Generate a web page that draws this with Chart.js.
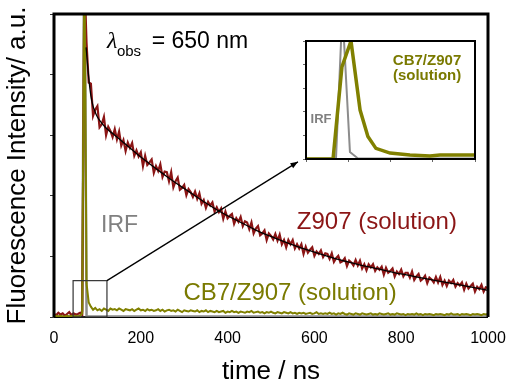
<!DOCTYPE html>
<html>
<head>
<meta charset="utf-8">
<script src="https://cdn.jsdelivr.net/npm/chart.js@4"></script>
<style>
  body { margin: 0; background: #fff; }
  #wrap { position: relative; width: 510px; height: 387px; }
  #inset { position: absolute; left: 300px; top: 36px; }
</style>
</head>
<body>
<div id="wrap">
  <canvas id="chart" width="510" height="387"></canvas>
  <canvas id="inset" width="180" height="130"></canvas>
</div>
<script>
// time axis of the decays, one value every 5 ns from 0 ns
const timeStep = 5;

// Z907 (solution), fluorescence counts (a.u.)
const z907 = [
  0.05, 0.03, 0.07, 0.04, 0.06, 0.02, 0.05, 0.08, 0.03, 0.06, 0.04, 0.05, 0.07, 0.04, 5.6,
  4.52, 3.87, 3.85, 3.32, 3.42, 3.48, 3.13, 3.18, 3.30, 3.00,
  3.14, 3.07, 2.97, 3.10, 2.93, 3.06, 2.83, 2.92, 2.74, 2.88,
  2.79, 2.87, 2.66, 2.75, 2.65, 2.72, 2.49, 2.66, 2.51, 2.55,
  2.60, 2.38, 2.49, 2.41, 2.52, 2.31, 2.40, 2.39, 2.24, 2.39,
  2.14, 2.24, 2.30, 2.10, 2.13, 2.18, 2.01, 2.11, 2.06, 1.98,
  2.07, 1.95, 2.04, 1.87, 1.93, 1.80, 1.90, 1.84, 1.89, 1.74,
  1.81, 1.73, 1.79, 1.62, 1.74, 1.63, 1.67, 1.70, 1.54, 1.63,
  1.57, 1.65, 1.50, 1.58, 1.56, 1.45, 1.56, 1.38, 1.46, 1.50,
  1.35, 1.38, 1.43, 1.27, 1.38, 1.34, 1.28, 1.37, 1.26, 1.36,
  1.20, 1.27, 1.15, 1.27, 1.20, 1.27, 1.13, 1.20, 1.13, 1.20,
  1.04, 1.16, 1.06, 1.11, 1.15, 1.01, 1.08, 1.04, 1.10, 0.99,
  1.05, 1.04, 0.96, 1.05, 0.91, 0.97, 1.01, 0.90, 0.92, 0.97,
  0.84, 0.93, 0.90, 0.85, 0.94, 0.85, 0.93, 0.80, 0.87, 0.77,
  0.87, 0.82, 0.87, 0.76, 0.82, 0.78, 0.83, 0.70, 0.81, 0.73,
  0.76, 0.80, 0.67, 0.75, 0.71, 0.78, 0.67, 0.73, 0.73, 0.65,
  0.75, 0.61, 0.67, 0.71, 0.60, 0.63, 0.68, 0.56, 0.65, 0.62,
  0.57, 0.66, 0.57, 0.66, 0.53, 0.60, 0.51, 0.60, 0.56, 0.61,
  0.50, 0.56, 0.52, 0.57, 0.45, 0.55, 0.47, 0.51, 0.55, 0.42,
  0.50, 0.46, 0.53, 0.42, 0.49, 0.48
];

// CB7/Z907 (solution)
const cb7z907 = [
  0.01, 0.02, 0.01, 0.02, 0.01, 0.01, 0.02, 0.01, 0.02, 0.01, 0.02, 0.01, 0.02,
  0.06, 6.2, 0.55, 0.24, 0.17, 0.12, 0.15, 0.11, 0.13, 0.10, 0.14, 0.12,
  0.10, 0.14, 0.12, 0.13, 0.11, 0.14, 0.12, 0.10, 0.13, 0.12,
  0.11, 0.13, 0.10, 0.12, 0.14, 0.11, 0.12, 0.10, 0.13, 0.11,
  0.12, 0.10, 0.11, 0.13, 0.10, 0.12, 0.09, 0.11, 0.12, 0.10,
  0.11, 0.09, 0.12, 0.10, 0.08, 0.11, 0.10, 0.09, 0.11, 0.10,
  0.09, 0.11, 0.08, 0.10, 0.09, 0.11, 0.08, 0.10, 0.09, 0.08,
  0.10, 0.08, 0.09, 0.10, 0.07, 0.09, 0.08, 0.10, 0.08, 0.09,
  0.07, 0.09, 0.08, 0.07, 0.09, 0.08, 0.10, 0.07, 0.08, 0.09,
  0.07, 0.08, 0.06, 0.08, 0.07, 0.09, 0.07, 0.06, 0.08, 0.07,
  0.06, 0.08, 0.07, 0.06, 0.08, 0.06, 0.07, 0.05, 0.07, 0.06,
  0.07, 0.05, 0.06, 0.07, 0.05, 0.06, 0.08, 0.05, 0.06, 0.05,
  0.06, 0.05, 0.07, 0.05, 0.06, 0.04, 0.06, 0.05, 0.07, 0.05,
  0.04, 0.06, 0.05, 0.04, 0.06, 0.05, 0.04, 0.06, 0.05, 0.04,
  0.05, 0.06, 0.04, 0.05, 0.04, 0.06, 0.05, 0.04, 0.05, 0.06,
  0.04, 0.05, 0.04, 0.06, 0.05, 0.04, 0.05, 0.03, 0.05, 0.04,
  0.05, 0.04, 0.06, 0.04, 0.05, 0.03, 0.05, 0.04, 0.05, 0.04,
  0.03, 0.05, 0.04, 0.05, 0.04, 0.03, 0.05, 0.04, 0.06, 0.04,
  0.04, 0.05, 0.03, 0.05, 0.04, 0.05, 0.04, 0.03, 0.05, 0.04,
  0.05, 0.04, 0.03, 0.05, 0.04, 0.05
];

// instrument response
const irf = [
  0.01, 0.01, 0.01, 0.01, 0.01, 0.01, 0.01, 0.01, 0.01, 0.01, 0.01, 0.01, 0.01,
  0.1, 6.5, 0.01, 0.01
];
const irfEnd = 1000;

// fitted decay of Z907
const fitTime = [74, 80, 85, 90, 95, 100, 110, 120, 140, 160, 180, 200, 220, 250, 275, 300,
  325, 350, 375, 400, 425, 450, 475, 500, 550, 600, 650, 700, 750, 800, 850, 900, 950, 1000];
const fitValue = [4.45, 3.95, 3.65, 3.48, 3.38, 3.30, 3.20, 3.12, 3.00, 2.88, 2.76, 2.64, 2.53, 2.37, 2.24, 2.12,
  2.00, 1.88, 1.77, 1.67, 1.58, 1.49, 1.40, 1.33, 1.19, 1.07, 0.96, 0.87, 0.79, 0.71, 0.64, 0.575, 0.51, 0.44];

const xTickValues = [0, 200, 400, 600, 800, 1000];

// inset: early time, normalised
const insetCbTime = [0, 12.8, 17, 21.3, 25.6, 29.3, 33.1, 39.8, 49.2, 58.7, 63.4, 70.5, 80];
const insetCbValue = [0, 0, 0.78, 1.0, 0.415, 0.19, 0.09, 0.05, 0.034, 0.025, 0.034, 0.034, 0.034];
const insetIrfTime = [0, 14.2, 16.6, 18, 20.8, 24.6, 80];
const insetIrfValue = [0.005, 0.005, 1, 1, 0.06, 0.005, 0.005];

// the region of the main plot that the inset blows up, and where the arrow points
const zoomBox = [44, 122, 0, 0.6];
const arrowTip = [562, 2.56];

const RED = '#8b1515';
const OLIVE = '#808000';
const GREY = '#8c8c8c';
const SANS = '"Liberation Sans", Arial, sans-serif';

const toPoints = (vals) => vals.map((v, i) => ({x: i * timeStep, y: v}));

const irfPoints = toPoints(irf);
irfPoints.push({x: irfEnd, y: 0.01});

const decor = {
  id: 'decor',
  beforeDatasetsDraw(chart) {
    const {ctx, chartArea: a} = chart;
    ctx.save();
    ctx.strokeStyle = '#000';
    ctx.lineWidth = 2;
    ctx.beginPath();
    ctx.moveTo(a.left, a.bottom);
    ctx.lineTo(a.right, a.bottom);
    ctx.stroke();
    ctx.restore();
  },
  afterDatasetsDraw(chart) {
    const {ctx, chartArea: a, scales: {x, y}} = chart;
    ctx.save();
    ctx.strokeStyle = '#000';
    ctx.lineWidth = 3;
    ctx.beginPath();
    ctx.moveTo(a.left, a.bottom);
    ctx.lineTo(a.left, a.top);
    ctx.lineTo(a.right, a.top);
    ctx.lineTo(a.right, a.bottom);
    ctx.stroke();

    // zoom box + arrow to the inset
    const bx0 = x.getPixelForValue(zoomBox[0]), bx1 = x.getPixelForValue(zoomBox[1]);
    const by0 = y.getPixelForValue(zoomBox[2]), by1 = y.getPixelForValue(zoomBox[3]);
    ctx.lineWidth = 1.2;
    ctx.strokeStyle = '#333';
    ctx.strokeRect(bx0, by1, bx1 - bx0, by0 - by1);
    const ax = x.getPixelForValue(arrowTip[0]), ay = y.getPixelForValue(arrowTip[1]);
    ctx.strokeStyle = '#000';
    ctx.lineWidth = 1.3;
    ctx.beginPath();
    ctx.moveTo(bx1, by1);
    ctx.lineTo(ax, ay);
    ctx.stroke();
    const ang = Math.atan2(ay - by1, ax - bx1);
    ctx.beginPath();
    ctx.moveTo(ax, ay);
    ctx.lineTo(ax - 8 * Math.cos(ang - 0.38), ay - 8 * Math.sin(ang - 0.38));
    ctx.lineTo(ax - 8 * Math.cos(ang + 0.38), ay - 8 * Math.sin(ang + 0.38));
    ctx.closePath();
    ctx.fillStyle = '#000';
    ctx.fill();

    // text labels
    const put = (txt, t, v, font, color, align) => {
      ctx.font = font;
      ctx.fillStyle = color;
      ctx.textAlign = align;
      ctx.textBaseline = 'alphabetic';
      ctx.fillText(txt, x.getPixelForValue(t), y.getPixelForValue(v));
    };
    put('λ', 122, 4.44, 'italic 24px "Liberation Serif", serif', '#000', 'left');
    put('obs', 145, 4.31, '15px ' + SANS, '#000', 'left');
    put('= 650 nm', 225, 4.44, '23px ' + SANS, '#000', 'left');
    put('IRF', 151, 1.40, '23px ' + SANS, '#808080', 'center');
    put('Z907 (solution)', 744, 1.45, '24px ' + SANS, RED, 'center');
    put('CB7/Z907 (solution)', 544, 0.28, '24px ' + SANS, '#7a7a00', 'center');
    ctx.restore();
  }
};

new Chart(document.getElementById('chart'), {
  type: 'line',
  data: {
    datasets: [
      {label: 'fit', data: fitTime.map((t, i) => ({x: t, y: fitValue[i]})),
        borderColor: '#000', borderWidth: 1.3, cubicInterpolationMode: 'monotone'},
      {label: 'CB7/Z907 (solution)', data: toPoints(cb7z907), borderColor: OLIVE, borderWidth: 2},
      {label: 'Z907 (solution)', data: toPoints(z907), borderColor: RED, borderWidth: 2.2},
      {label: 'IRF', data: irfPoints, borderColor: GREY, borderWidth: 2.5}
    ]
  },
  options: {
    responsive: false,
    animation: false,
    elements: {point: {radius: 0}, line: {tension: 0}},
    layout: {padding: {top: 14, right: 22, left: 0, bottom: 0}},
    plugins: {legend: {display: false}, tooltip: {enabled: false}},
    scales: {
      x: {
        type: 'linear', min: 0, max: 1000,
        afterBuildTicks: s => { s.ticks = xTickValues.map(v => ({value: v})); },
        ticks: {color: '#000', font: {family: SANS, size: 16}, padding: 4, maxRotation: 0,
          callback: v => String(v)},
        grid: {display: false},
        border: {display: false},
        title: {display: true, text: 'time / ns', color: '#000', font: {family: SANS, size: 26}, padding: 0},
        afterFit: s => { s.height = 70; s.paddingRight = 0; s.paddingLeft = 0; }
      },
      y: {
        type: 'linear', min: 0, max: 5,
        ticks: {display: false, stepSize: 1},
        grid: {drawOnChartArea: false, drawTicks: true, tickLength: 4, color: '#333'},
        border: {display: false},
        title: {display: true, text: 'Fluorescence Intensity/ a.u.', color: '#000',
          font: {family: SANS, size: 26}, padding: {top: 2, bottom: 0}},
        afterFit: s => { s.width = 54; }
      }
    }
  },
  plugins: [decor]
});

const insetDecor = {
  id: 'insetDecor',
  afterDatasetsDraw(chart) {
    const {ctx, chartArea: a, scales: {x, y}} = chart;
    ctx.save();
    ctx.strokeStyle = '#000';
    ctx.lineWidth = 2;
    ctx.strokeRect(a.left, a.top, a.right - a.left, a.bottom - a.top);
    const put = (txt, t, v, font, color) => {
      ctx.font = font;
      ctx.fillStyle = color;
      ctx.textAlign = 'center';
      ctx.fillText(txt, x.getPixelForValue(t), y.getPixelForValue(v));
    };
    put('IRF', 7.1, 0.305, 'bold 13px ' + SANS, '#808080');
    put('CB7/Z907', 57.3, 0.80, 'bold 15px ' + SANS, '#7a7a00');
    put('(solution)', 57.3, 0.67, 'bold 15px ' + SANS, '#7a7a00');
    ctx.restore();
  }
};

new Chart(document.getElementById('inset'), {
  type: 'line',
  data: {
    datasets: [
      {data: insetCbTime.map((t, i) => ({x: t, y: insetCbValue[i]})), borderColor: OLIVE, borderWidth: 3.5},
      {data: insetIrfTime.map((t, i) => ({x: t, y: insetIrfValue[i]})), borderColor: GREY, borderWidth: 2}
    ]
  },
  options: {
    responsive: false,
    animation: false,
    elements: {point: {radius: 0}, line: {tension: 0}},
    layout: {padding: {top: 5, right: 5, left: 0, bottom: 0}},
    plugins: {legend: {display: false}, tooltip: {enabled: false}},
    scales: {
      x: {
        type: 'linear', min: 0, max: 80,
        ticks: {display: false, stepSize: 20},
        grid: {drawOnChartArea: false, tickLength: 3, color: '#666'},
        border: {display: false},
        afterFit: s => { s.height = 7; }
      },
      y: {
        type: 'linear', min: 0, max: 1,
        ticks: {display: false, stepSize: 0.2},
        grid: {drawOnChartArea: false, tickLength: 3, color: '#666'},
        border: {display: false},
        afterFit: s => { s.width = 6; }
      }
    }
  },
  plugins: [insetDecor]
});
</script>
</body>
</html>
